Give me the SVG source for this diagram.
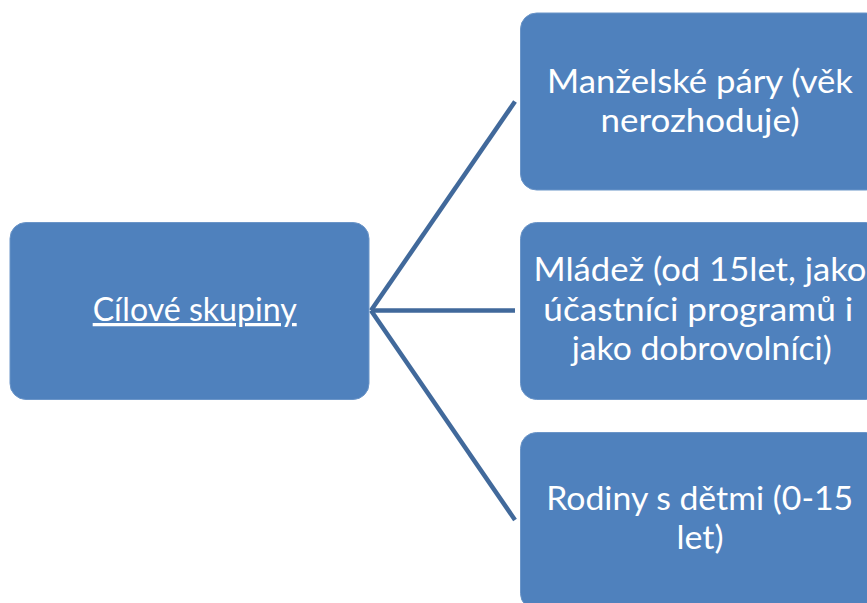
<svg xmlns="http://www.w3.org/2000/svg" width="867" height="603" viewBox="0 0 867 603">
<style>
.box{fill:#4f81bd;stroke:#6b95c8;stroke-width:1}
.t{font-family:Lato,"Open Sans","Liberation Sans",sans-serif;font-size:32.5px;fill:#ffffff;text-anchor:middle}
.c{stroke:#41699b;stroke-width:4.5;fill:none;stroke-linecap:butt}
</style>
<rect width="867" height="603" fill="#ffffff"/>
<g id="connectors">
<line class="c" x1="371" y1="310.5" x2="515" y2="101.5"/>
<line class="c" x1="371" y1="310.5" x2="515" y2="310.5"/>
<line class="c" x1="371" y1="310.5" x2="515" y2="520"/>
</g>
<g id="node-cilove">
<rect class="box" x="10" y="222.5" width="359" height="177" rx="16"/>
<text class="t" x="194.7" y="321" text-decoration="underline" textLength="204" lengthAdjust="spacingAndGlyphs">Cílové skupiny</text>
</g>
<g id="node-manzelske">
<rect class="box" x="520.5" y="13" width="362" height="177" rx="16"/>
<text class="t" x="700" y="92.5" textLength="306" lengthAdjust="spacingAndGlyphs">Manželské páry (věk</text>
<text class="t" x="700" y="131.5" textLength="199" lengthAdjust="spacingAndGlyphs">nerozhoduje)</text>
</g>
<g id="node-mladez">
<rect class="box" x="520.5" y="222.5" width="362" height="177" rx="16"/>
<text class="t" x="700" y="280.5" textLength="333" lengthAdjust="spacingAndGlyphs">Mládež (od 15let, jako</text>
<text class="t" x="698.3" y="320.5" textLength="310" lengthAdjust="spacingAndGlyphs">účastníci programů i</text>
<text class="t" x="701.7" y="360" textLength="260" lengthAdjust="spacingAndGlyphs">jako dobrovolníci)</text>
</g>
<g id="node-rodiny">
<rect class="box" x="520.5" y="432.5" width="362" height="177" rx="16"/>
<text class="t" x="699.7" y="510" textLength="307" lengthAdjust="spacingAndGlyphs">Rodiny s dětmi (0-15</text>
<text class="t" x="700" y="549" textLength="47" lengthAdjust="spacingAndGlyphs">let)</text>
</g>
</svg>
